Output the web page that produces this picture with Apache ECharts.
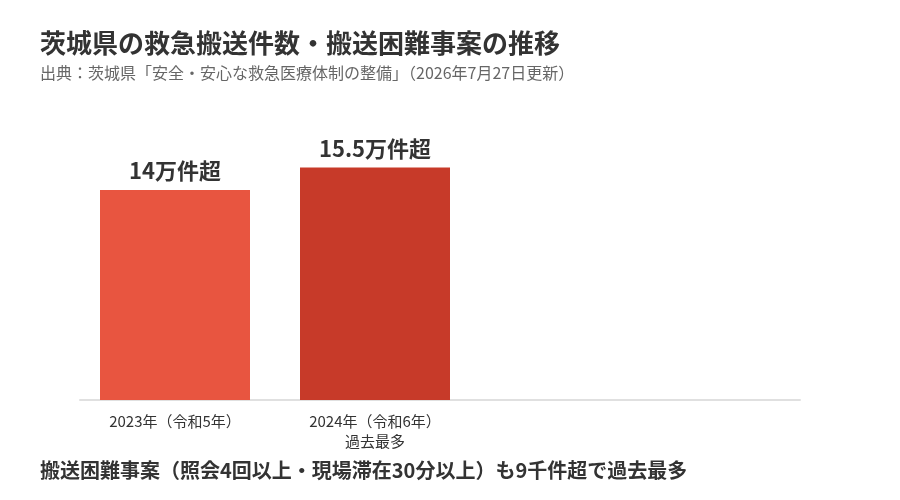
<!DOCTYPE html>
<html>
<head>
<meta charset="utf-8">
<script src="https://cdn.jsdelivr.net/npm/echarts@6/dist/echarts.min.js"></script>
<style>
html,body{margin:0;padding:0;background:#fff;}
#chart{width:900px;height:500px;}
</style>
</head>
<body>
<div id="chart"></div>
<script>
const categories = ['2023年（令和5年）', '2024年（令和6年）\n過去最多'];
const values = [14, 15.5]; // 万件
const valueLabels = ['14万件超', '15.5万件超'];
const barColors = ['#E85540', '#C73A29'];
const titleText = '茨城県の救急搬送件数・搬送困難事案の推移';
const subtitleText = '出典：茨城県「安全・安心な救急医療体制の整備」（2026年7月27日更新）';
const noteText = '搬送困難事案（照会4回以上・現場滞在30分以上）も9千件超で過去最多';

const FONT = '"Noto Sans CJK JP", "Noto Sans", sans-serif';
const chart = echarts.init(document.getElementById('chart'), null, {renderer: 'canvas'});
chart.setOption({
  backgroundColor: '#fff',
  animation: false,
  textStyle: {fontFamily: FONT},
  title: [
    {
      text: titleText,
      subtext: subtitleText,
      left: 35, top: 25,
      itemGap: 9,
      textStyle: {fontFamily: FONT, fontSize: 26, fontWeight: 'bold', color: '#333'},
      subtextStyle: {fontFamily: FONT, fontSize: 16, color: '#666'}
    },
    {
      text: noteText,
      left: 35, top: 455,
      textStyle: {fontFamily: FONT, fontSize: 20, fontWeight: 'bold', color: '#333'}
    }
  ],
  grid: [
    {left: 75, width: 400, top: 100, bottom: 100},
    {left: 80, right: 100, top: 100, bottom: 100}
  ],
  xAxis: [
    {
      type: 'category', gridIndex: 0, data: categories,
      axisLine: {show: false}, axisTick: {show: false},
      axisLabel: {fontFamily: FONT, fontSize: 15, color: '#333', margin: 11, lineHeight: 20}
    },
    {
      type: 'category', gridIndex: 1, data: [''],
      axisLine: {show: true, lineStyle: {color: '#e0e0e0', width: 2}},
      axisTick: {show: false}, axisLabel: {show: false}
    }
  ],
  yAxis: [
    {type: 'value', gridIndex: 0, min: 0, max: 20, show: false},
    {type: 'value', gridIndex: 1, min: 0, max: 20, show: false}
  ],
  series: [{
    type: 'bar',
    xAxisIndex: 0, yAxisIndex: 0,
    barWidth: 150,
    data: values.map((v, i) => ({value: v, itemStyle: {color: barColors[i]}})),
    label: {
      show: true, position: 'top', distance: 8,
      formatter: p => valueLabels[p.dataIndex],
      fontFamily: FONT, fontSize: 22, fontWeight: 'bold', color: '#333'
    }
  }]
});
</script>
</body>
</html>
